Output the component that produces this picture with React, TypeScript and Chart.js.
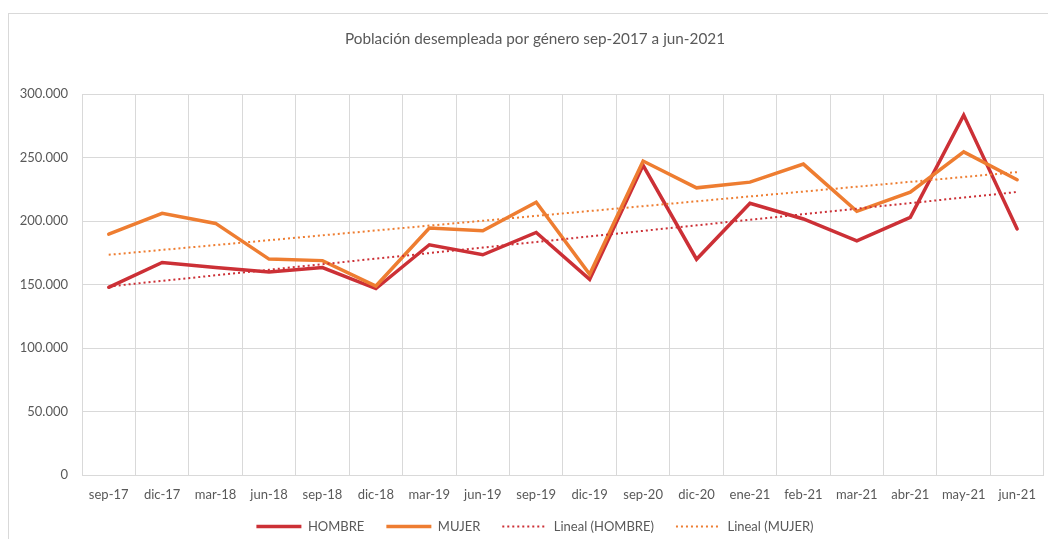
import React, { useEffect, useRef } from "react";
import { Chart, registerables } from "chart.js";

Chart.register(...registerables);

const TITLE = "Población desempleada por género sep-2017 a jun-2021";

const categories = [
  "sep-17", "dic-17", "mar-18", "jun-18", "sep-18", "dic-18", "mar-19", "jun-19", "sep-19",
  "dic-19", "sep-20", "dic-20", "ene-21", "feb-21", "mar-21", "abr-21", "may-21", "jun-21",
];

const hombre = [
  147800, 167300, 163300, 159900, 163300, 146800, 181300, 173400, 191000,
  154100, 243800, 169900, 214000, 201600, 184400, 202900, 283400, 193700,
];

const mujer = [
  189700, 206000, 198100, 170000, 168800, 148800, 194500, 192300, 214800,
  158000, 247200, 226100, 230600, 244800, 207600, 222700, 254400, 232500,
];

const yTicks = [0, 50000, 100000, 150000, 200000, 250000, 300000];

function linearTrend(values: number[]): number[] {
  const n = values.length;
  const xs = values.map((_, i) => i + 1);
  const mx = xs.reduce((a, b) => a + b, 0) / n;
  const my = values.reduce((a, b) => a + b, 0) / n;
  let num = 0;
  let den = 0;
  for (let i = 0; i < n; i++) {
    num += (xs[i] - mx) * (values[i] - my);
    den += (xs[i] - mx) * (xs[i] - mx);
  }
  const slope = num / den;
  const icpt = my - slope * mx;
  return xs.map((x) => icpt + slope * x);
}

const RED = "#CC3036";
const ORANGE = "#EE7D31";
const TEXT = "#595959";
const GRID = "#D9D9D9";
const FONT = "Lato, 'Noto Sans', sans-serif";

function fmt(v: number): string {
  return Math.round(v).toString().replace(/\B(?=(\d{3})+(?!\d))/g, ".");
}

const tweaks = {
  id: "tweaks",
  afterLayout(chart: any) {
    const lg = chart.legend;
    if (lg) {
      lg.top -= 7;
      lg.bottom -= 7;
      lg.left += 8;
      lg.right += 8;
    }
  },
  afterDraw(chart: any) {
    const ctx = chart.ctx;
    ctx.save();
    ctx.fillStyle = TEXT;
    ctx.font = `normal 15.3px ${FONT}`;
    ctx.textAlign = "center";
    ctx.textBaseline = "middle";
    ctx.fillText(TITLE, 526, 25);
    ctx.restore();
  },
};

export default function App() {
  const ref = useRef<HTMLCanvasElement | null>(null);

  useEffect(() => {
    if (!ref.current) return;
    const chart = new Chart(ref.current, {
      type: "line",
      data: {
        labels: categories,
        datasets: [
          {
            label: "HOMBRE",
            data: hombre,
            borderColor: RED,
            backgroundColor: RED,
            borderWidth: 3.5,
            pointRadius: 0,
            pointStyle: "line",
            borderCapStyle: "round",
            order: 3,
          },
          {
            label: "MUJER",
            data: mujer,
            borderColor: ORANGE,
            backgroundColor: ORANGE,
            borderWidth: 3.5,
            pointRadius: 0,
            pointStyle: "line",
            borderCapStyle: "round",
            order: 2,
          },
          {
            label: "Lineal (HOMBRE)",
            data: linearTrend(hombre),
            borderColor: RED,
            backgroundColor: RED,
            borderWidth: 2,
            borderDash: [2, 3],
            pointRadius: 0,
            pointStyle: "line",
            order: 1,
          },
          {
            label: "Lineal (MUJER)",
            data: linearTrend(mujer),
            borderColor: ORANGE,
            backgroundColor: ORANGE,
            borderWidth: 2,
            borderDash: [2, 3],
            pointRadius: 0,
            pointStyle: "line",
            order: 0,
          },
        ],
      },
      plugins: [tweaks],
      options: {
        animation: false,
        responsive: false,
        maintainAspectRatio: false,
        layout: { padding: { top: 80, right: 3, left: 0, bottom: -11 } },
        plugins: {
          tooltip: { enabled: false },
          title: { display: false },
          legend: {
            position: "bottom",
            labels: {
              usePointStyle: true,
              pointStyleWidth: 45,
              boxHeight: 13,
              padding: 22,
              color: TEXT,
              font: { family: FONT, size: 13 },
              sort: (a: any, b: any) => a.datasetIndex - b.datasetIndex,
              generateLabels: (c: any) => {
                const items = Chart.defaults.plugins.legend.labels.generateLabels(c);
                return items.map((it: any) => {
                  const ds: any = c.data.datasets[it.datasetIndex];
                  it.lineDash = ds.borderDash || [];
                  it.lineWidth = ds.borderWidth;
                  it.strokeStyle = ds.borderColor;
                  it.pointStyle = "line";
                  it.lineCap = "butt";
                  return it;
                });
              },
            },
          },
        },
        scales: {
          x: {
            offset: true,
            grid: { color: GRID, lineWidth: 1, offset: true, drawTicks: false },
            border: { color: GRID },
            ticks: {
              color: TEXT,
              font: { family: FONT, size: 13 },
              padding: 12,
              maxRotation: 0,
              autoSkip: false,
            },
            afterFit: (scale: any) => {
              scale.height = 30;
            },
          },
          y: {
            min: 0,
            max: 300000,
            afterBuildTicks: (scale: any) => {
              scale.ticks = yTicks.map((v) => ({ value: v }));
            },
            grid: { color: GRID, lineWidth: 1, drawTicks: false },
            border: { display: false },
            ticks: {
              color: TEXT,
              font: { family: FONT, size: 13 },
              padding: 14,
              callback: (v: any) => fmt(Number(v)),
            },
            afterFit: (scale: any) => {
              scale.width = 73;
            },
          },
        },
      },
    });
    return () => chart.destroy();
  }, []);

  return (
    <div
      style={{
        position: "absolute",
        left: 8,
        top: 13,
        width: 1040,
        height: 526,
        borderLeft: `1px solid ${GRID}`,
        borderTop: `1px solid ${GRID}`,
        boxSizing: "border-box",
        background: "#fff",
      }}
    >
      <canvas ref={ref} width={1039} height={525} style={{ display: "block" }} />
    </div>
  );
}
